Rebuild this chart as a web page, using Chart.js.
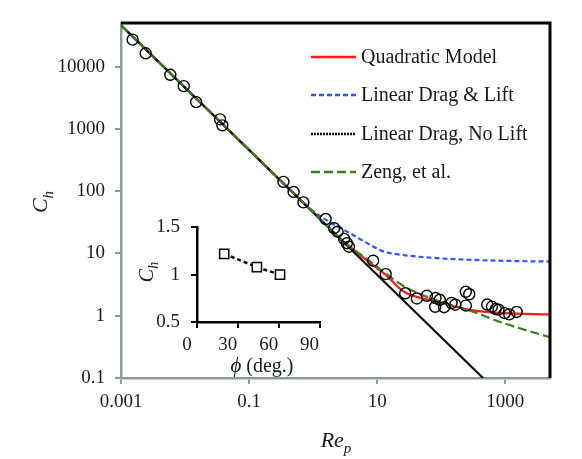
<!DOCTYPE html>
<html>
<head>
<meta charset="utf-8">
<script src="https://cdn.jsdelivr.net/npm/chart.js@4"></script>
<style>
html, body { margin: 0; padding: 0; background: #ffffff; }
#wrap { position: relative; width: 582px; height: 459px; }
#main { position: absolute; left: 0; top: 0; }
#inset { position: absolute; left: 120px; top: 205px; }
</style>
</head>
<body>
<div id="wrap">
  <canvas id="main" width="582" height="459"></canvas>
  <canvas id="inset" width="215" height="175"></canvas>
</div>
<script>
// measured points (open circles)
const measuredRe = [0.00152, 0.00243, 0.00589, 0.00955, 0.0149, 0.0352, 0.0383, 0.344, 0.496, 0.705,
  1.57, 2.13, 2.41, 3.05, 3.36, 3.63, 8.66, 13.6, 27.4, 41.7, 59.8, 81.5, 94.9, 80.5, 111, 145, 166,
  242, 274, 243, 523, 620, 711, 786, 982, 1155, 1507];
const measuredCh = [27000, 16300, 7370, 4840, 2685, 1419, 1138, 141, 97, 65.9,
  35.6, 25.4, 22.3, 17.1, 14.6, 12.8, 7.64, 4.65, 2.29, 1.89, 2.09, 1.92, 1.80, 1.39, 1.37, 1.60, 1.50,
  2.42, 2.21, 1.45, 1.51, 1.40, 1.28, 1.25, 1.10, 1.05, 1.15];

// model curves
const quadRe = [0.001, 0.1, 1, 3, 7.8, 13.3, 25.8, 86, 284, 940, 5000];
const quadCh = [46000, 460, 46, 15.5, 7.0, 4.6, 2.45, 1.69, 1.24, 1.10, 1.05];
const liftRe = [0.001, 0.1, 0.5, 1, 2, 3.8, 7.8, 12.4, 26, 86, 284, 1000, 5000];
const liftCh = [46000, 460, 92, 48, 30, 21, 13.7, 10.8, 9.4, 8.4, 7.9, 7.6, 7.4];
const noLiftRe = [0.001, 450];
const noLiftCh = [46000, 0.1];
const zengRe = [0.001, 0.1, 1, 3, 7.8, 25.8, 86, 284, 940, 5000];
const zengCh = [46000, 460, 46, 15.5, 7.4, 3.0, 1.75, 1.2, 0.76, 0.45];

const seriesNames = ['Quadratic Model', 'Linear Drag & Lift', 'Linear Drag, No Lift', 'Zeng, et al.'];

const xTickValues = [0.001, 0.1, 10, 1000];
const xTickLabels = ['0.001', '0.1', '10', '1000'];
const yTickValues = [0.1, 1, 10, 100, 1000, 10000];
const yTickLabels = ['0.1', '1', '10', '100', '1000', '10000'];

// inset: C_h vs angle
const insetPhi = [20, 44, 61];
const insetCh = [1.22, 1.08, 1.0];
const insetXTicks = [0, 30, 60, 90];
const insetXLabels = ['0', '30', '60', '90'];
const insetYTicks = [0.5, 1, 1.5];
const insetYLabels = ['0.5', '1', '1.5'];

const RED = '#ff1a1a';
const BLUE = '#3355ff';
const BLACK = '#111111';
const GREEN = '#3a7f1c';
const AXIS_GRAY = '#8e9b9b';
const TEXT = '#1a1a1a';
const SERIF = '"Liberation Serif", "Times New Roman", serif';

const pairs = (xs, ys) => xs.map((x, i) => ({ x: x, y: ys[i] }));

function lineSet(label, xs, ys, color, dash, order) {
  return {
    label: label,
    data: pairs(xs, ys),
    showLine: true,
    borderColor: color,
    borderWidth: 2.2,
    borderDash: dash,
    pointRadius: 0,
    cubicInterpolationMode: 'monotone',
    fill: false,
    order: order
  };
}

// subscripted italic text, e.g. C_h
function drawSubLabel(ctx, main, sub, cx, cy, size, subSize, rotate) {
  ctx.save();
  ctx.translate(cx, cy);
  if (rotate) ctx.rotate(-Math.PI / 2);
  ctx.fillStyle = TEXT;
  ctx.textBaseline = 'alphabetic';
  ctx.font = 'italic ' + size + 'px ' + SERIF;
  const w1 = ctx.measureText(main).width;
  ctx.font = 'italic ' + subSize + 'px ' + SERIF;
  const w2 = ctx.measureText(sub).width;
  const x0 = -(w1 + w2) / 2;
  const base = size * 0.33;
  ctx.font = 'italic ' + size + 'px ' + SERIF;
  ctx.fillText(main, x0, base);
  ctx.font = 'italic ' + subSize + 'px ' + SERIF;
  ctx.fillText(sub, x0 + w1, base + subSize * 0.35);
  ctx.restore();
}

const legendStyles = [
  { color: RED, dash: [] },
  { color: BLUE, dash: [5, 3] },
  { color: BLACK, dash: [2, 1] },
  { color: GREEN, dash: [9, 4] }
];
const legendRowsY = [57, 95, 134, 172];

const mainDecor = {
  id: 'mainDecor',
  afterDraw(chart) {
    const ctx = chart.ctx;
    const a = chart.chartArea;
    ctx.save();
    // black frame on top and right
    ctx.strokeStyle = '#000000';
    ctx.lineWidth = 3;
    ctx.beginPath();
    ctx.moveTo(a.left, a.top);
    ctx.lineTo(a.right, a.top);
    ctx.lineTo(a.right, a.bottom);
    ctx.stroke();

    // legend
    ctx.font = '20px ' + SERIF;
    ctx.textBaseline = 'middle';
    ctx.textAlign = 'left';
    legendStyles.forEach((st, i) => {
      const y = legendRowsY[i];
      ctx.strokeStyle = st.color;
      ctx.lineWidth = 2.5;
      ctx.setLineDash(st.dash);
      ctx.beginPath();
      ctx.moveTo(311, y);
      ctx.lineTo(356, y);
      ctx.stroke();
      ctx.setLineDash([]);
      ctx.fillStyle = TEXT;
      ctx.fillText(seriesNames[i], 361, y + 1);
    });
    ctx.restore();

    drawSubLabel(ctx, 'C', 'h', 40, 202, 22, 15, true);
    drawSubLabel(ctx, 'Re', 'p', 336, 440, 22, 15, false);
  }
};

new Chart(document.getElementById('main'), {
  type: 'scatter',
  data: {
    datasets: [
      {
        label: 'data',
        data: pairs(measuredRe, measuredCh),
        pointStyle: 'circle',
        pointRadius: 5.5,
        pointBorderWidth: 1.4,
        pointBorderColor: '#000000',
        pointBackgroundColor: 'rgba(0,0,0,0)',
        showLine: false,
        order: 0
      },
      lineSet(seriesNames[0], quadRe, quadCh, RED, [], 4),
      lineSet(seriesNames[1], liftRe, liftCh, BLUE, [5, 3], 3),
      lineSet(seriesNames[2], noLiftRe, noLiftCh, BLACK, [], 2),
      lineSet(seriesNames[3], zengRe, zengCh, GREEN, [9, 4], 1)
    ]
  },
  options: {
    responsive: false,
    animation: false,
    devicePixelRatio: 1,
    layout: { padding: { top: 23, right: 32, left: 0, bottom: 0 } },
    plugins: { legend: { display: false }, tooltip: { enabled: false } },
    scales: {
      x: {
        type: 'logarithmic',
        min: 0.001,
        max: 5000,
        afterBuildTicks: s => { s.ticks = xTickValues.map(v => ({ value: v })); },
        afterFit: s => { s.height = 81; },
        border: { color: AXIS_GRAY, width: 2.5 },
        grid: { drawOnChartArea: false, drawTicks: true, tickLength: 6, color: AXIS_GRAY, lineWidth: 2 },
        ticks: {
          padding: 7,
          autoSkip: false,
          maxRotation: 0,
          color: TEXT,
          font: { family: SERIF, size: 19 },
          callback: v => xTickLabels[xTickValues.indexOf(v)]
        }
      },
      y: {
        type: 'logarithmic',
        min: 0.1,
        max: 50000,
        afterBuildTicks: s => { s.ticks = yTickValues.map(v => ({ value: v })); },
        afterFit: s => { s.width = 121; },
        border: { color: AXIS_GRAY, width: 2.5 },
        grid: { drawOnChartArea: false, drawTicks: true, tickLength: 6, color: AXIS_GRAY, lineWidth: 2 },
        ticks: {
          padding: 10,
          autoSkip: false,
          color: TEXT,
          font: { family: SERIF, size: 19 },
          callback: v => yTickLabels[yTickValues.indexOf(v)]
        }
      }
    }
  },
  plugins: [mainDecor]
});

const insetDecor = {
  id: 'insetDecor',
  afterDraw(chart) {
    const ctx = chart.ctx;
    drawSubLabel(ctx, 'C', 'h', 26, 67, 20, 14, true);
    ctx.save();
    ctx.fillStyle = TEXT;
    ctx.textBaseline = 'alphabetic';
    ctx.font = 'italic 21px ' + SERIF;
    const phi = '\u03D5';
    const w1 = ctx.measureText(phi).width;
    ctx.font = '20px ' + SERIF;
    const rest = ' (deg.)';
    const w2 = ctx.measureText(rest).width;
    const x0 = 142 - (w1 + w2) / 2;
    ctx.font = 'italic 21px ' + SERIF;
    ctx.fillText(phi, x0, 167);
    ctx.font = '20px ' + SERIF;
    ctx.fillText(rest, x0 + w1, 167);
    ctx.restore();
  }
};

new Chart(document.getElementById('inset'), {
  type: 'scatter',
  data: {
    datasets: [{
      label: 'inset',
      data: pairs(insetPhi, insetCh),
      showLine: true,
      borderColor: BLACK,
      borderWidth: 2.5,
      borderDash: [4, 3],
      pointStyle: 'rect',
      pointRadius: 6.5,
      pointBorderWidth: 1.5,
      pointBorderColor: '#000000',
      pointBackgroundColor: '#ffffff'
    }]
  },
  options: {
    responsive: false,
    animation: false,
    devicePixelRatio: 1,
    layout: { padding: { top: 13, right: 12, left: 0, bottom: 0 } },
    plugins: { legend: { display: false }, tooltip: { enabled: false } },
    scales: {
      x: {
        type: 'linear',
        min: 0,
        max: 90,
        afterBuildTicks: s => { s.ticks = insetXTicks.map(v => ({ value: v })); },
        afterFit: s => { s.height = 58; },
        border: { color: '#000000', width: 2.5 },
        grid: { drawOnChartArea: false, drawTicks: true, tickLength: 6, color: '#000000', lineWidth: 2 },
        ticks: {
          padding: 6,
          labelOffset: -10,
          maxRotation: 0,
          autoSkip: false,
          color: TEXT,
          font: { family: SERIF, size: 19 },
          callback: v => insetXLabels[insetXTicks.indexOf(v)]
        }
      },
      y: {
        type: 'linear',
        min: 0.5,
        max: 1.5,
        afterBuildTicks: s => { s.ticks = insetYTicks.map(v => ({ value: v })); },
        afterFit: s => { s.width = 77; },
        border: { color: '#000000', width: 2.5 },
        grid: { drawOnChartArea: false, drawTicks: true, tickLength: 6, color: '#000000', lineWidth: 2 },
        ticks: {
          padding: 11,
          autoSkip: false,
          color: TEXT,
          font: { family: SERIF, size: 19 },
          callback: v => insetYLabels[insetYTicks.indexOf(v)]
        }
      }
    }
  },
  plugins: [insetDecor]
});
</script>
</body>
</html>
